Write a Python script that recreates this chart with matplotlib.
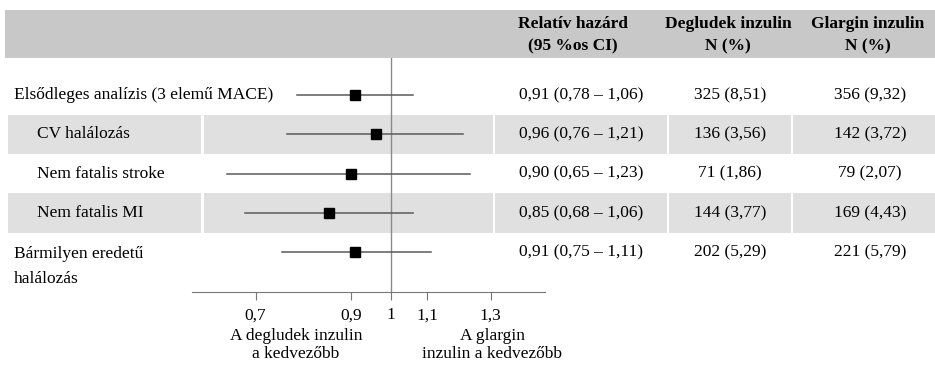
import matplotlib
matplotlib.use("Agg")
import matplotlib.pyplot as plt
import matplotlib.transforms as mtransforms

plt.rcParams['font.family'] = ['Liberation Serif', 'DejaVu Serif']

# data
labels = ["Elsődleges analízis (3 elemű MACE)", "CV halálozás", "Nem fatalis stroke",
          "Nem fatalis MI", "Bármilyen eredetű\nhalálozás"]
indent = [False, True, True, True, False]
hr = [0.91, 0.96, 0.90, 0.85, 0.91]
ci_low = [0.78, 0.76, 0.65, 0.68, 0.75]
ci_high = [1.06, 1.21, 1.23, 1.06, 1.11]
deg_n = [325, 136, 71, 144, 202]
deg_pct = [8.51, 3.56, 1.86, 3.77, 5.29]
gla_n = [356, 142, 79, 169, 221]
gla_pct = [9.32, 3.72, 2.07, 4.43, 5.79]
ticks = [0.7, 0.9, 1, 1.1, 1.3]
tick_labels = ["0,7", "0,9", "1", "1,1", "1,3"]
headers = ["Relatív hazárd\n(95 %os CI)", "Degludek inzulin\nN (%)", "Glargin inzulin\nN (%)"]


def fmt(v):
    return f"{v:.2f}".replace(".", ",")


W, H = 935, 365
FS = 12.5
fig = plt.figure(figsize=(W / 100, H / 100), dpi=100)

# background axes in pixel coordinates
bg = fig.add_axes([0, 0, 1, 1])
bg.set_xlim(0, W)
bg.set_ylim(H, 0)
bg.axis("off")

# forest axes
x0, x1, ytop, ybot = 192, 545, 58, 292
ax = fig.add_axes([x0 / W, (H - ybot) / H, (x1 - x0) / W, (ybot - ytop) / H])
ax.patch.set_visible(False)
ax.set_xscale("log")
ax.set_xlim(0.592, 1.5)
ax.set_ylim(5.01, -0.94)

tr = mtransforms.blended_transform_factory(bg.transData, ax.transData)

# header band
bg.add_patch(plt.Rectangle((5, 10), W - 5, 48, color="#c8c8c8", lw=0, zorder=0))
hx = [573, 728, 868]
for x, h in zip(hx, headers):
    bg.text(x, 35, h, ha="center", va="center", fontsize=12.5, fontweight="bold",
            linespacing=1.55)

# row bands
segs = [(8, 201), (204, 493), (495, 667), (669, 791), (793, W)]
for i in range(len(labels)):
    if i % 2 == 1:
        for a, b in segs:
            bg.add_patch(plt.Rectangle((a, i - 0.5), b - a, 1.0, transform=tr,
                                       color="#e0e0e0", lw=0, zorder=0))

# forest marks
for i in range(len(labels)):
    ax.plot([ci_low[i], ci_high[i]], [i, i], color="#5a5a5a", lw=1.1, zorder=2)
ax.plot(hr, range(len(labels)), "s", color="black", ms=6.5, zorder=3)
ax.axvline(1, color="#8a8a8a", lw=1, zorder=1)

# axis styling
for s in ["top", "right", "left"]:
    ax.spines[s].set_visible(False)
ax.spines["bottom"].set_color("#777777")
ax.set_yticks([])
ax.set_xticks(ticks)
ax.set_xticklabels(tick_labels, fontsize=FS)
ax.xaxis.set_minor_locator(matplotlib.ticker.NullLocator())
ax.tick_params(axis="x", direction="out", length=6, color="#777777", pad=5)

# row texts
for i, lab in enumerate(labels):
    x = 37 if indent[i] else 14
    if "\n" in lab:
        bg.text(x, i - 0.17, lab, transform=tr, ha="left", va="top", fontsize=FS,
                linespacing=1.75)
    else:
        bg.text(x, i, lab, transform=tr, ha="left", va="center", fontsize=FS)
    bg.text(581, i, f"{fmt(hr[i])} ({fmt(ci_low[i])} – {fmt(ci_high[i])})",
            transform=tr, ha="center", va="center", fontsize=FS)
    bg.text(730, i, f"{deg_n[i]} ({fmt(deg_pct[i])})", transform=tr,
            ha="center", va="center", fontsize=FS)
    bg.text(870, i, f"{gla_n[i]} ({fmt(gla_pct[i])})", transform=tr,
            ha="center", va="center", fontsize=FS)

# favour labels
bg.text(296, 345, "A degludek inzulin\na kedvezőbb", ha="center", va="center",
        fontsize=FS, linespacing=1.25)
bg.text(492, 345, "A glargin\ninzulin a kedvezőbb", ha="center", va="center",
        fontsize=FS, linespacing=1.25)

fig.savefig("out.png", dpi=100)
